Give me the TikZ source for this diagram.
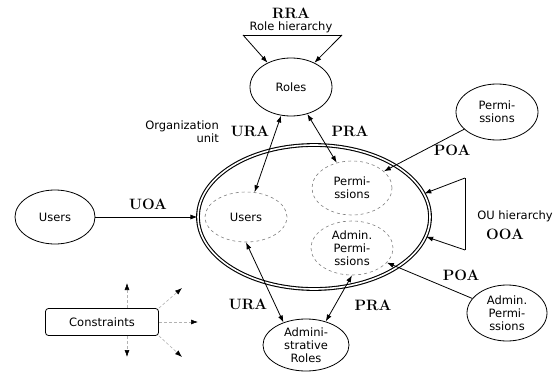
\documentclass[tikz,border=0pt]{standalone}
\usepackage{fontspec}
\setsansfont{DejaVu Sans}
\usetikzlibrary{shapes,arrows,arrows.meta}
\tikzstyle{entity} = [ellipse, draw, line width=0.8pt, minimum width=82pt, minimum height=56pt, inner sep=0pt, align=center, font=\sffamily\fontsize{11.5}{13}\selectfont]
\tikzstyle{inner} = [entity, draw=gray, dashed, line width=0.6pt]
\tikzstyle{ounit} = [ellipse, draw, double, double distance=1.6pt, line width=1.1pt, minimum width=232pt, minimum height=144pt]
\tikzstyle{cbox} = [rectangle, draw, line width=0.8pt, rounded corners=3pt, minimum width=113pt, minimum height=27pt, font=\sffamily\fontsize{11.5}{13}\selectfont]
\tikzstyle{rel} = [font=\fontsize{15}{15}\selectfont\bfseries, inner sep=1pt]
\tikzstyle{lbl} = [font=\sffamily\fontsize{11.5}{13}\selectfont, inner sep=1pt]
\tikzstyle{line} = [draw, line width=0.8pt, -{Latex[length=7pt,width=5pt]}]
\tikzstyle{both} = [draw, line width=0.8pt, {Latex[length=7pt,width=5pt]}-{Latex[length=7pt,width=5pt]}]
\tikzstyle{cline} = [draw=gray!60, densely dashed, line width=0.6pt, -{Latex[length=7pt,width=5pt,black]}]

\begin{document}
\begin{tikzpicture}[x=1pt, y=-1pt, node distance=2cm]
    \useasboundingbox (0,0) rectangle (557,372);
    % organization unit and what is inside it
    \node [ounit] (ou) at (314,217) {};
    \node [inner, minimum height=50pt] (iusers) at (246,217) {Users};
    \node [inner, minimum width=80pt, minimum height=54pt] (iperm) at (352,188) {Permi-\\ssions};
    \node [inner, minimum height=54pt, below of=iperm, node distance=60pt] (iaperm) {Admin.\\Permi-\\ssions};
    \node [lbl, align=right, anchor=east] (oulbl) at (220,132) {Organization\\unit};
    % outer entities
    \node [entity, minimum height=58pt] (roles) at (291,87) {Roles};
    \node [entity, minimum width=80pt, minimum height=54pt, left of=iusers, node distance=191pt] (users) {Users};
    \node [entity] (perm) at (497,112) {Permi-\\ssions};
    \node [entity, minimum width=80pt] (aperm) at (507,313) {Admin.\\Permi-\\ssions};
    \node [entity, minimum width=86pt, minimum height=52pt] (aroles) at (306,345) {Admini-\\strative\\Roles};
    \node [cbox] (cons) at (102,322) {Constraints};
    % role hierarchy
    \node [rel] (rra) at (291,13) {RRA};
    \node [lbl, below of=rra, node distance=14pt] (rh) {Role hierarchy};
    \coordinate (rl) at (243,35);
    \coordinate (rr) at (342,35);
    \draw [line width=0.8pt] (rl) -- (rr);
    \path [line] (rl) -- (roles.134);
    \path [line] (rr) -- (roles.46);
    % OU hierarchy
    \coordinate (hu) at (465,178);
    \coordinate (hl) at (465,250);
    \draw [line width=0.8pt] (hu) -- (hl);
    \path [line] (hu) -- (ou.12);
    \path [line] (hl) -- (ou.-10);
    \node [lbl] (ouh) at (515,216) {OU hierarchy};
    \node [rel] (ooa) at (505,234) {OOA};
    % assignments
    \path [both] (roles) -- (iusers);
    \path [both] (roles) -- (iperm);
    \path [both] (iusers.south) -- (aroles.135);
    \path [both] (iaperm.south) -- (aroles.50);
    \path [line] (users) -- (ou);
    \path [line] (perm) -- (iperm);
    \path [line] (aperm) -- (iaperm);
    \node [rel] (ura1) at (250,131) {URA};
    \node [rel] (pra1) at (350,131) {PRA};
    \node [rel] (ura2) at (248,304) {URA};
    \node [rel] (pra2) at (373,305) {PRA};
    \node [rel] (uoa) at (148,204) {UOA};
    \node [rel] (poa1) at (452,150) {POA};
    \node [rel] (poa2) at (461,275) {POA};
    % constraints
    \coordinate (c1) at (127,283);
    \coordinate (c2) at (182,288);
    \coordinate (c3) at (198,322);
    \coordinate (c4) at (182,357);
    \coordinate (c5) at (127,357);
    \path [cline] (cons.north -| c1) -- (c1);
    \path [cline] (cons.north east) -- (c2);
    \path [cline] (cons.east) -- (c3);
    \path [cline] (cons.south east) -- (c4);
    \path [cline] (cons.south -| c5) -- (c5);
  \end{tikzpicture}
\end{document}
